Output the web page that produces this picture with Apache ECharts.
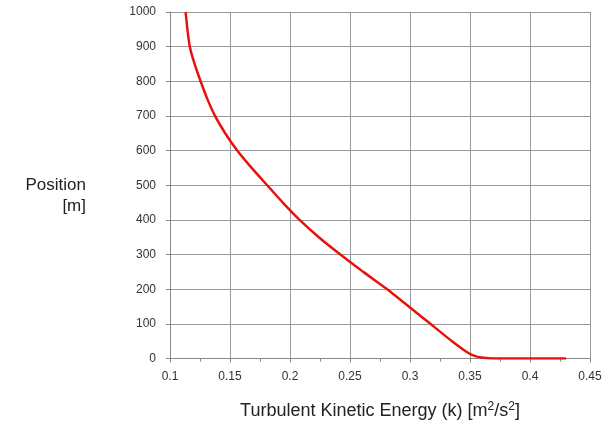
<!DOCTYPE html>
<html>
<head>
<meta charset="utf-8">
<script src="https://cdn.jsdelivr.net/npm/echarts@6/dist/echarts.min.js"></script>
<style>
  html, body { margin: 0; padding: 0; background: #fff; }
  #chart { width: 608px; height: 425px; }
</style>
</head>
<body>
<div id="chart"></div>
<script>
// turbulent kinetic energy k [m2/s2] vs position [m]
const kValues = [0.113, 0.1145, 0.1165, 0.1205, 0.1255, 0.131, 0.1375, 0.146, 0.156, 0.168, 0.181, 0.194, 0.208, 0.224, 0.242, 0.261, 0.281, 0.299, 0.317, 0.335, 0.349, 0.355, 0.361, 0.37, 0.43];
const positions = [1000, 950, 900, 850, 800, 750, 700, 650, 600, 550, 500, 450, 400, 350, 300, 250, 200, 150, 100, 50, 15, 6, 2, 0, 0];

const xTicks = [0.1, 0.15, 0.2, 0.25, 0.3, 0.35, 0.4, 0.45];
const yTicks = [0, 100, 200, 300, 400, 500, 600, 700, 800, 900, 1000];

const chart = echarts.init(document.getElementById("chart"));

const font = "Arial, 'Liberation Sans', sans-serif";

const option = {
  animation: false,
  backgroundColor: "#fff",
  grid: { left: 170, right: 18, top: 12, bottom: 65 },
  xAxis: {
    type: "value",
    min: xTicks[0],
    max: xTicks[xTicks.length - 1],
    interval: 0.05,
    name: "{a|Turbulent Kinetic Energy (k) [m}{s|2}{a|/s}{s|2}{a|]}",
    nameLocation: "middle",
    nameGap: 42,
    nameTextStyle: {
      rich: {
        a: { fontSize: 18, fontFamily: font, color: "#222" },
        s: { fontSize: 12, fontFamily: font, color: "#222", verticalAlign: "top", padding: [0, 0, 9, 0] },
      },
    },
    axisLine: { lineStyle: { color: "#888", width: 1 } },
    axisTick: { show: true, length: 4, lineStyle: { color: "#888" } },
    minorTick: { show: true, splitNumber: 2, length: 3, lineStyle: { color: "#888" } },
    axisLabel: {
      margin: 12,
      fontSize: 12,
      fontFamily: font,
      color: "#333",
      formatter: (v) => String(+v.toFixed(2)),
    },
    splitLine: { show: true, lineStyle: { color: "#999", width: 1 } },
  },
  yAxis: {
    type: "value",
    min: yTicks[0],
    max: yTicks[yTicks.length - 1],
    interval: 100,
    axisLine: { show: true, lineStyle: { color: "#888", width: 1 } },
    axisTick: { show: true, length: 4, lineStyle: { color: "#888" } },
    axisLabel: { margin: 14, fontSize: 12, fontFamily: font, color: "#333", formatter: (v) => String(v) },
    splitLine: { show: true, lineStyle: { color: "#999", width: 1 } },
  },
  graphic: [
    {
      type: "text",
      right: 608 - 86,
      top: 177,
      style: { text: "Position", fontSize: 17, fontFamily: font, fill: "#222" },
    },
    {
      type: "text",
      right: 608 - 86,
      top: 198,
      style: { text: "[m]", fontSize: 17, fontFamily: font, fill: "#222" },
    },
  ],
  series: [
    {
      type: "line",
      data: kValues.map((k, i) => [k, positions[i]]),
      showSymbol: false,
      smooth: 0.15,
      lineStyle: { color: "#e8120c", width: 2.5 },
    },
  ],
};

chart.setOption(option);
</script>
</body>
</html>
